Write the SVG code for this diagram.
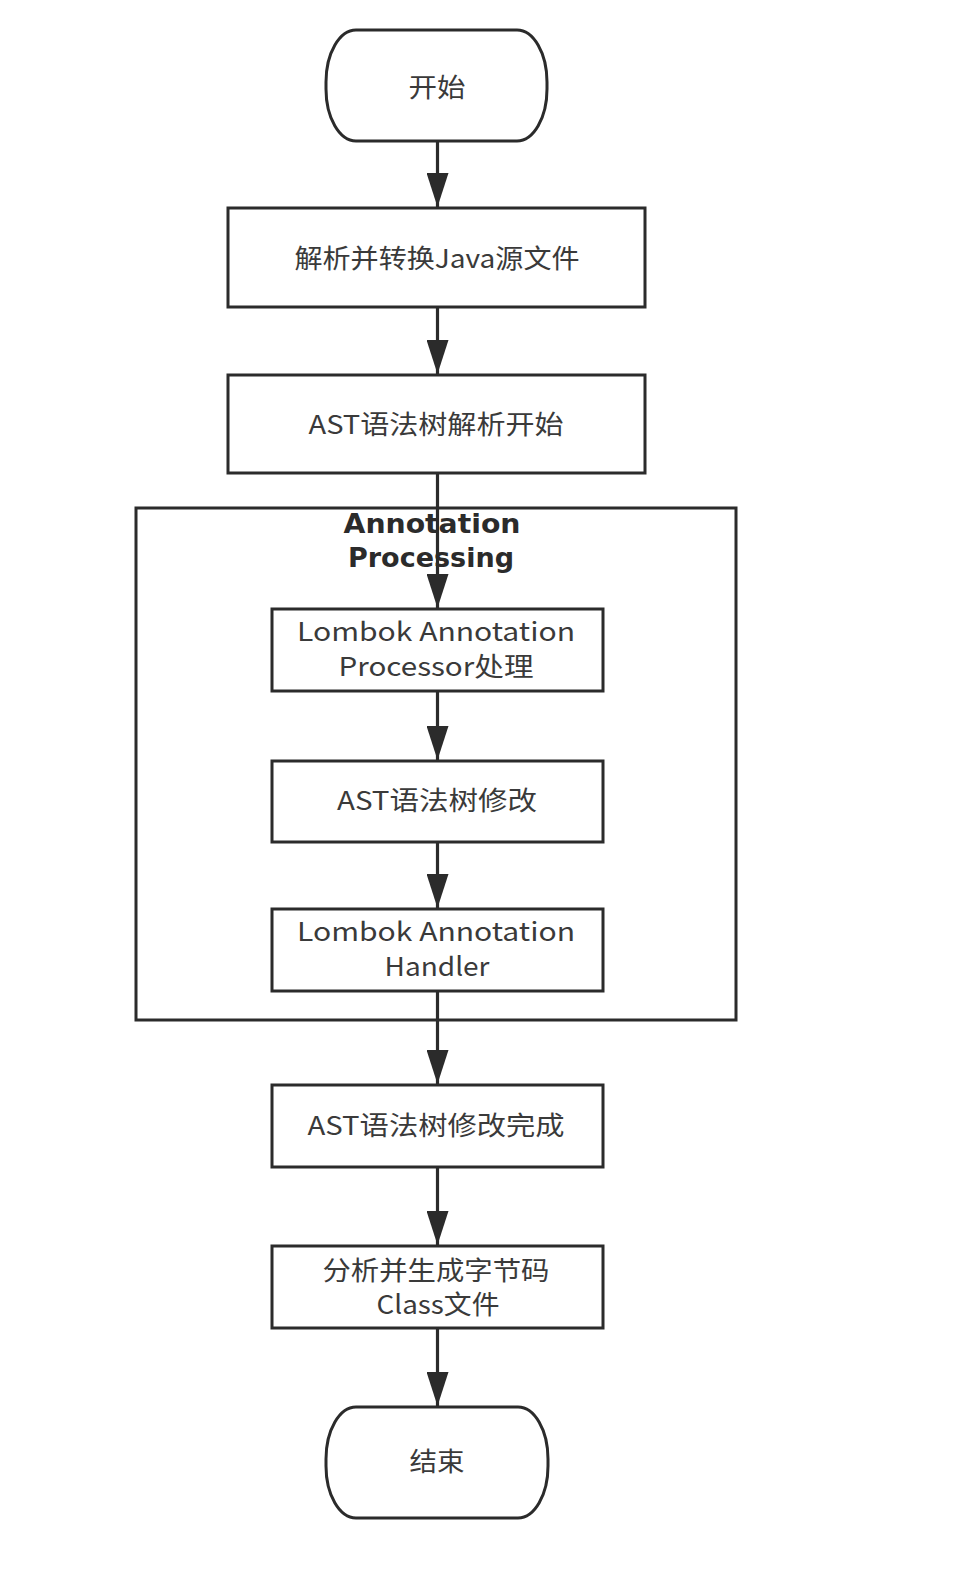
<svg xmlns="http://www.w3.org/2000/svg" width="956" height="1586" viewBox="0 0 956 1586">
<style>
.bg{fill:#ffffff}
.box{fill:#ffffff;stroke:#2b2b2b;stroke-width:3}
.cont{fill:none;stroke:#2b2b2b;stroke-width:3}
.t{font-family:"Noto Sans CJK SC","Noto Sans",sans-serif;font-size:26px;fill:#3a3a3a;text-anchor:middle;dominant-baseline:central}
.tb{font-family:"DejaVu Sans","Noto Sans",sans-serif;font-weight:bold;font-size:26px;fill:#2b2b2b;text-anchor:middle;dominant-baseline:central}
.edge{fill:none;stroke:#2b2b2b;stroke-width:3.2;marker-end:url(#arr)}
</style>
<defs>
<marker id="arr" viewBox="0 0 34 22" refX="34" refY="11" markerWidth="34" markerHeight="22" markerUnits="userSpaceOnUse" orient="auto">
<path d="M0,0 L34,11 L0,22 z" fill="#2b2b2b"/>
</marker>
</defs>
<rect class="bg" x="0" y="0" width="956" height="1586"/>
<g id="container">
<rect class="cont" x="136" y="508" width="600" height="512"/>
<text class="tb"><tspan x="432" y="524" textLength="177" lengthAdjust="spacingAndGlyphs">Annotation</tspan><tspan x="431" y="558" textLength="166" lengthAdjust="spacingAndGlyphs">Processing</tspan></text>
</g>
<g id="start">
<rect class="box" x="326" y="30" width="221" height="111" rx="30" ry="52"/>
<text class="t" x="437" y="85" textLength="57" lengthAdjust="spacingAndGlyphs">开始</text>
</g>
<g id="parse">
<rect class="box" x="228" y="208" width="417" height="99"/>
<text class="t" x="437" y="256" textLength="285" lengthAdjust="spacingAndGlyphs">解析并转换Java源文件</text>
</g>
<g id="astStart">
<rect class="box" x="228" y="375" width="417" height="98"/>
<text class="t" x="436" y="422" textLength="255" lengthAdjust="spacingAndGlyphs">AST语法树解析开始</text>
</g>
<g id="processor">
<rect class="box" x="272" y="609" width="331" height="82"/>
<text class="t"><tspan x="436" y="629" textLength="278" lengthAdjust="spacingAndGlyphs">Lombok Annotation</tspan><tspan x="436" y="664" textLength="195" lengthAdjust="spacingAndGlyphs">Processor处理</tspan></text>
</g>
<g id="astModify">
<rect class="box" x="272" y="761" width="331" height="81"/>
<text class="t" x="437" y="798" textLength="200" lengthAdjust="spacingAndGlyphs">AST语法树修改</text>
</g>
<g id="handler">
<rect class="box" x="272" y="909" width="331" height="82"/>
<text class="t"><tspan x="436" y="929" textLength="278" lengthAdjust="spacingAndGlyphs">Lombok Annotation</tspan><tspan x="437" y="964" textLength="105" lengthAdjust="spacingAndGlyphs">Handler</tspan></text>
</g>
<g id="astDone">
<rect class="box" x="272" y="1085" width="331" height="82"/>
<text class="t" x="436" y="1123" textLength="257" lengthAdjust="spacingAndGlyphs">AST语法树修改完成</text>
</g>
<g id="bytecode">
<rect class="box" x="272" y="1246" width="331" height="82"/>
<text class="t"><tspan x="436" y="1268" textLength="227" lengthAdjust="spacingAndGlyphs">分析并生成字节码</tspan><tspan x="438" y="1302" textLength="123" lengthAdjust="spacingAndGlyphs">Class文件</tspan></text>
</g>
<g id="end">
<rect class="box" x="326" y="1407" width="222" height="111" rx="30" ry="52"/>
<text class="t" x="437" y="1459" textLength="55" lengthAdjust="spacingAndGlyphs">结束</text>
</g>
<g id="connectors">
<path class="edge" d="M437.5,141 V207"/>
<path class="edge" d="M437.5,307 V374"/>
<path class="edge" d="M437.5,473 V608"/>
<path class="edge" d="M437.5,691 V760"/>
<path class="edge" d="M437.5,842 V908"/>
<path class="edge" d="M437.5,991 V1084"/>
<path class="edge" d="M437.5,1167 V1245"/>
<path class="edge" d="M437.5,1328 V1406"/>
</g>
</svg>
